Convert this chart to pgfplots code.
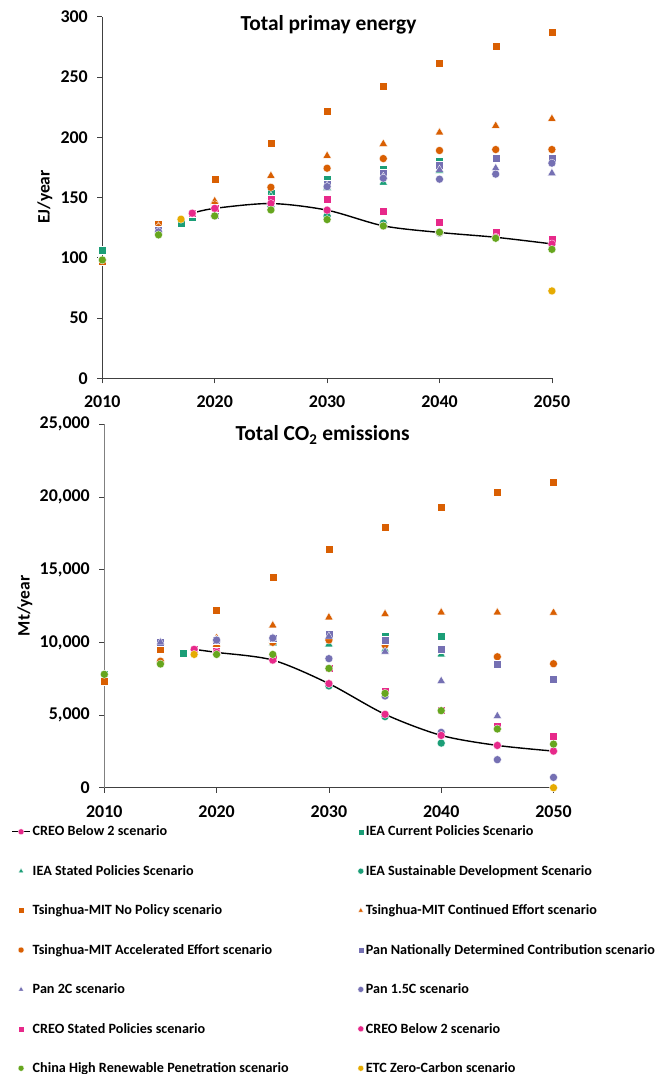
\documentclass[border=0pt]{standalone}
\usepackage{fontspec}
\setmainfont{Carlito}
\usepackage{pgfplots}
\pgfplotsset{compat=1.18}
\definecolor{cTeal}{HTML}{1B9E77}
\definecolor{cOrange}{HTML}{D95F02}
\definecolor{cPurple}{HTML}{7570B3}
\definecolor{cPink}{HTML}{E7298A}
\definecolor{cGreen}{HTML}{66A61E}
\definecolor{cYellow}{HTML}{E6AB02}
\definecolor{axgray}{HTML}{404040}
\pgfplotsset{
  base/.style={scale only axis, xmin=2010, xmax=2050, xtick={2010,2020,...,2050}, clip=false,
    axis x line=bottom, axis y line=left, axis line style={-, draw=axgray, line width=0.8bp},
    tick align=outside, major tick length=5bp, tick style={draw=axgray, line width=0.8bp},
    /pgf/number format/assume math mode=true,
    x tick label style={/pgf/number format/1000 sep={}, yshift=-9bp},
    y tick label style={xshift=-6bp},
    tick label style={font=\fontsize{18}{21}\selectfont\bfseries},
    legend image code/.code={\draw[mark repeat=2,mark phase=2,##1] plot coordinates {(0bp,0bp) (9bp,0bp) (18bp,0bp)};},
    legend image post style={mark size=3bp},
  },
  msq/.style={only marks, mark=square*, mark size=4bp, mark options={fill=#1, draw=white, line width=0.3bp}},
  mtri/.style={only marks, mark=triangle*, mark size=4.8bp, mark options={fill=#1, draw=white, line width=0.3bp}},
  mcirc/.style={only marks, mark=*, mark size=4bp, mark options={fill=#1, draw=white, line width=0.3bp}},
  creoline/.style={black, line width=1.4bp, smooth, mark=*, mark size=4bp, mark options={fill=cPink, draw=white, line width=0.3bp}},
}
\begin{document}
\begin{tikzpicture}[x=1bp,y=1bp]
\useasboundingbox (0,0) rectangle (667,-1074);
\node[rotate=90, font=\fontsize{17.5}{21}\selectfont\bfseries] at (45,-197) {EJ/year};
\node[rotate=90, font=\fontsize{17.5}{21}\selectfont\bfseries] at (25,-606) {Mt/year};
% ---------------- Top: primary energy
\begin{axis}[base, at={(102.3bp,-378.3bp)}, anchor=south west, width=449.6bp, height=361.6bp,
  ymin=0, ymax=300, ytick={0,50,...,300}]
\node[font=\fontsize{21.5}{25}\selectfont\bfseries] at (axis description cs:0.503,0.977) {Total primay energy};
\addplot[creoline] coordinates {(2018,137)(2020,141)(2025,145)(2030,139.5)(2035,126.5)(2040,121)(2045,117)(2050,111.5)};
\addplot[msq=cTeal] coordinates {(2010,106.5)(2017,128.7)(2018,133.3)(2025,154)(2030,165.4)(2035,173.5)(2040,179.8)};
\addplot[mtri=cTeal] coordinates {(2025,151)(2030,158)(2035,162.4)(2040,172)};
\addplot[mcirc=cTeal] coordinates {(2025,143)(2030,134.7)(2035,128.7)(2040,120.5)};
\addplot[msq=cOrange] coordinates {(2010,97.4)(2015,127.8)(2020,165)(2025,195)(2030,222)(2035,242)(2040,261.5)(2045,275.4)(2050,287)};
\addplot[mtri=cOrange] coordinates {(2015,126)(2020,147)(2025,168)(2030,184.6)(2035,194.5)(2040,204)(2045,209.5)(2050,215.3)};
\addplot[mcirc=cOrange] coordinates {(2015,125)(2020,144)(2025,158.5)(2030,174.3)(2035,182.3)(2040,189)(2045,189.8)(2050,189.8)};
\addplot[msq=cPurple] coordinates {(2015,123)(2020,135.5)(2025,146.6)(2030,161.3)(2035,170)(2040,176.5)(2045,182.3)(2050,182.6)};
\addplot[mtri=cPurple] coordinates {(2015,122)(2020,135)(2025,146)(2030,159.5)(2035,167)(2040,173)(2045,174.3)(2050,170.2)};
\addplot[mcirc=cPurple] coordinates {(2015,121.5)(2020,135)(2025,145.5)(2030,159)(2035,166)(2040,165.2)(2045,169.4)(2050,178.5)};
\addplot[msq=cPink] coordinates {(2018,137)(2020,141)(2025,149)(2030,148.6)(2035,138.6)(2040,129.2)(2045,121.5)(2050,115.4)};
\addplot[mcirc=cPink] coordinates {(2018,137)(2020,141)(2025,145)(2030,139.5)(2035,126.5)(2040,121)(2045,117)(2050,111.5)};
\addplot[mcirc=cGreen] coordinates {(2010,98.2)(2015,119)(2020,134.7)(2025,139.7)(2030,131.7)(2035,126.4)(2040,121.2)(2045,116.2)(2050,107)};
\addplot[mcirc=cYellow] coordinates {(2017,132)(2050,72.5)};
\end{axis}
% ---------------- Bottom: CO2 emissions
\begin{axis}[base, at={(104.3bp,-787.7bp)}, anchor=south west, width=449.2bp, height=363.4bp,
  ymin=0, ymax=25000, ytick={0,5000,...,25000}, scaled y ticks=false,
  y tick label style={/pgf/number format/1000 sep={,}},
  y axis line style={draw=gray, line width=1.5bp},
  legend style={at={(axis description cs:-0.214,-0.094)}, anchor=north west, draw=none, fill=none,
    font=\fontsize{14.2}{17}\selectfont\bfseries, row sep=24bp,
    /tikz/every even column/.append style={column sep=67bp}},
  legend columns=2, legend cell align=left]
\node[font=\fontsize{21.5}{25}\selectfont\bfseries] at (axis description cs:0.486,0.9706) {Total CO\textsubscript{2} emissions};
\addplot[creoline] coordinates {(2018,9520)(2020,9310)(2025,8780)(2030,7160)(2035,5050)(2040,3600)(2045,2910)(2050,2520)};
\addlegendentry{CREO Below 2 scenario}
\addplot[msq=cTeal] coordinates {(2010,7820)(2017,9240)(2025,10000)(2030,10400)(2035,10440)(2040,10440)};
\addlegendentry{IEA Current Policies Scenario}
\addplot[mtri=cTeal] coordinates {(2025,9950)(2030,9860)(2035,9520)(2040,9170)};
\addlegendentry{IEA Stated Policies Scenario}
\addplot[mcirc=cTeal] coordinates {(2025,9000)(2030,7000)(2035,4890)(2040,3070)};
\addlegendentry{IEA Sustainable Development Scenario}
\addplot[msq=cOrange] coordinates {(2010,7340)(2015,9540)(2020,12220)(2025,14500)(2030,16440)(2035,17960)(2040,19330)(2045,20320)(2050,21030)};
\addlegendentry{Tsinghua-MIT No Policy scenario}
\addplot[mtri=cOrange] coordinates {(2015,8720)(2020,10300)(2025,11170)(2030,11720)(2035,11950)(2040,12060)(2045,12060)(2050,12040)};
\addlegendentry{Tsinghua-MIT Continued Effort scenario}
\addplot[mcirc=cOrange] coordinates {(2015,8700)(2020,9700)(2025,10000)(2030,10160)(2035,9820)(2040,9500)(2045,9010)(2050,8530)};
\addlegendentry{Tsinghua-MIT Accelerated Effort scenario}
\addplot[msq=cPurple] coordinates {(2015,10000)(2020,10160)(2025,10320)(2030,10550)(2035,10160)(2040,9520)(2045,8490)(2050,7450)};
\addlegendentry{Pan Nationally Determined Contribution scenario}
\addplot[mtri=cPurple] coordinates {(2015,10000)(2020,10160)(2025,10300)(2030,10400)(2035,9360)(2040,7340)(2045,4930)(2050,3400)};
\addlegendentry{Pan 2C scenario}
\addplot[mcirc=cPurple] coordinates {(2020,10160)(2025,10300)(2030,8880)(2035,6310)(2040,3810)(2045,1930)(2050,710)};
\addlegendentry{Pan 1.5C scenario}
\addplot[msq=cPink] coordinates {(2018,9520)(2020,9400)(2025,8900)(2030,8210)(2035,6650)(2040,5340)(2045,4240)(2050,3560)};
\addlegendentry{CREO Stated Policies scenario}
\addplot[mcirc=cPink] coordinates {(2018,9520)(2020,9310)(2025,8780)(2030,7160)(2035,5050)(2040,3600)(2045,2910)(2050,2520)};
\addlegendentry{CREO Below 2 scenario}
\addplot[mcirc=cGreen] coordinates {(2010,7800)(2015,8510)(2020,9170)(2025,9170)(2030,8210)(2035,6490)(2040,5300)(2045,4040)(2050,3000)};
\addlegendentry{China High Renewable Penetration scenario}
\addplot[mcirc=cYellow] coordinates {(2018,9170)(2050,0)};
\addlegendentry{ETC Zero-Carbon scenario}
\end{axis}
\end{tikzpicture}
\end{document}
